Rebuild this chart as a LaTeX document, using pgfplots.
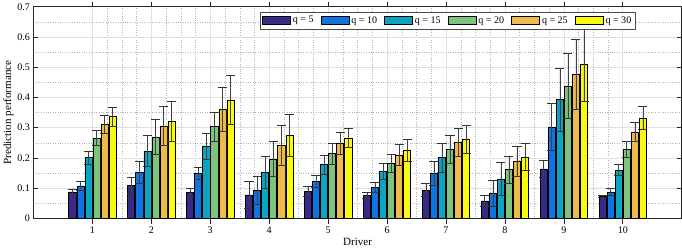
\documentclass[border=0pt]{standalone}
\usepackage{fontspec}
\setmainfont{Liberation Serif}
\usepackage{pgfplots}
\usepackage{pgfplotstable}
\pgfplotsset{compat=1.18}
\definecolor{c1}{RGB}{53,42,135}
\definecolor{c2}{RGB}{15,115,225}
\definecolor{c3}{RGB}{10,165,195}
\definecolor{c4}{RGB}{125,195,125}
\definecolor{c5}{RGB}{240,185,75}
\definecolor{c6}{RGB}{250,250,15}
\pgfplotstableread{
x y1 e1 y2 e2 y3 e3 y4 e4 y5 e5 y6 e6
1 0.088 0.008 0.108 0.014 0.201 0.021 0.266 0.024 0.312 0.029 0.337 0.031
2 0.109 0.026 0.152 0.037 0.223 0.052 0.270 0.057 0.306 0.064 0.321 0.066
3 0.087 0.014 0.150 0.020 0.240 0.043 0.304 0.048 0.361 0.074 0.392 0.081
4 0.078 0.045 0.094 0.047 0.152 0.053 0.197 0.058 0.242 0.066 0.274 0.070
5 0.089 0.016 0.122 0.020 0.178 0.032 0.214 0.035 0.248 0.036 0.266 0.031
6 0.076 0.009 0.102 0.016 0.156 0.028 0.183 0.030 0.210 0.034 0.226 0.037
7 0.094 0.021 0.149 0.041 0.201 0.048 0.228 0.046 0.252 0.047 0.262 0.045
8 0.058 0.018 0.082 0.043 0.131 0.054 0.162 0.045 0.188 0.049 0.203 0.044
9 0.164 0.029 0.303 0.077 0.393 0.104 0.438 0.108 0.477 0.117 0.509 0.121
10 0.073 0.004 0.088 0.013 0.160 0.018 0.229 0.027 0.286 0.032 0.332 0.038
}\data
\pgfplotsset{
  mybar/.style={draw=black, line width=0.5pt, fill=#1,
    legend image code/.code={\draw[##1] (0bp,-3.8bp) rectangle (28bp,3.8bp);},
    error bars/.cd, y dir=both, y explicit,
    error bar style={black!75, line width=0.6pt},
    error mark options={black!80, line width=0.6pt, mark size=4.5bp, rotate=90},
    /pgfplots/.cd},
}
\begin{document}
\begin{tikzpicture}
\begin{axis}[
  scale only axis, width=643bp, height=210bp,
  xmin=0, xmax=11, ymin=0, ymax=0.7,
  xtick={1,2,3,4,5,6,7,8,9,10},
  ytick={0,0.1,0.2,0.3,0.4,0.5,0.6,0.7},
  yticklabels={0,0.1,0.2,0.3,0.4,0.5,0.6,0.7},
  minor x tick num=3, minor y tick num=1,
  grid=both,
  major grid style={black!12, line width=0.6pt},
  minor grid style={black!30, dotted, line width=0.4pt},
  tick align=inside, major tick length=5bp, minor tick length=0pt,
  axis line style={black!85, line width=0.6pt}, tick style={black!85, line width=0.6pt},
  xlabel={Driver}, ylabel={Prediction performance},
  label style={font=\fontsize{11}{13}\selectfont},
  xlabel style={yshift=3bp}, ylabel style={yshift=-3bp},
  ybar, bar width=0.12,
  /pgf/number format/assume math mode=true,
  ticklabel style={font=\normalsize},
  legend columns=6,
  legend style={at={(0.928,0.977)}, anchor=north east, draw=black!70, fill=white,
    font=\normalsize, inner xsep=1.5bp, inner ysep=2.5bp, row sep=0pt,
    /tikz/every even column/.append style={column sep=5bp}},
  legend cell align=left,
]
\addplot[bar shift=-0.342, mybar=c1] table[x=x, y=y1, y error=e1]{\data};
\addplot[bar shift=-0.205, mybar=c2] table[x=x, y=y2, y error=e2]{\data};
\addplot[bar shift=-0.068, mybar=c3] table[x=x, y=y3, y error=e3]{\data};
\addplot[bar shift=0.068, mybar=c4] table[x=x, y=y4, y error=e4]{\data};
\addplot[bar shift=0.205, mybar=c5] table[x=x, y=y5, y error=e5]{\data};
\addplot[bar shift=0.342, mybar=c6] table[x=x, y=y6, y error=e6]{\data};
\legend{q = 5, q = 10, q = 15, q = 20, q = 25, q = 30}
\end{axis}
\end{tikzpicture}
\end{document}
